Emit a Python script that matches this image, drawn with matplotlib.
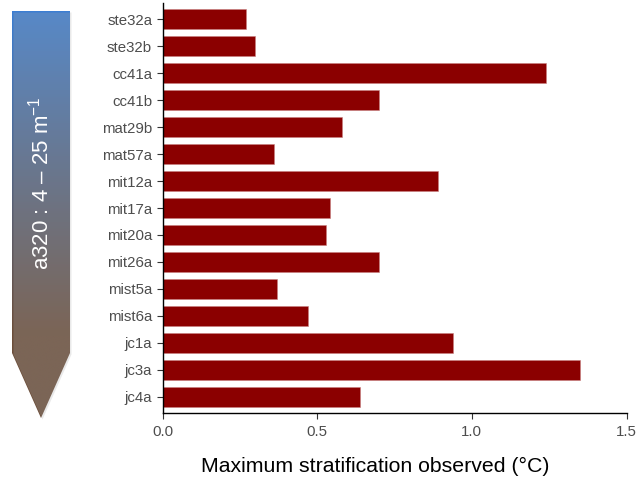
import numpy as np
import matplotlib
matplotlib.use("Agg")
import matplotlib.pyplot as plt
from matplotlib.patches import Polygon

plt.rcParams['font.family'] = ['Liberation Sans', 'DejaVu Sans']
plt.rcParams['mathtext.fontset'] = 'custom'
plt.rcParams['mathtext.rm'] = 'Liberation Sans'

sites = ['ste32a', 'ste32b', 'cc41a', 'cc41b', 'mat29b', 'mat57a', 'mit12a', 'mit17a',
         'mit20a', 'mit26a', 'mist5a', 'mist6a', 'jc1a', 'jc3a', 'jc4a']
strat = [0.27, 0.30, 1.24, 0.70, 0.58, 0.36, 0.89, 0.54,
         0.53, 0.70, 0.37, 0.47, 0.94, 1.35, 0.64]
xticks = [0.0, 0.5, 1.0, 1.5]

fig = plt.figure(figsize=(6.37, 4.79), dpi=100)

# arrow with gradient (pixel coords)
bg = fig.add_axes([0, 0, 1, 1], zorder=0)
bg.set_xlim(0, 637)
bg.set_ylim(479, 0)
bg.axis('off')
pts = [(12, 11), (70, 11), (70, 353), (41, 418), (12, 353)]
shadow = Polygon([(x + 1.5, y + 1.5) for x, y in pts], closed=True, fc='#aaaaaa', ec='none', alpha=0.25)
bg.add_patch(shadow)
arrow = Polygon(pts, closed=True, fc='none', ec='none')
bg.add_patch(arrow)
top = np.array([60, 126, 210]) / 255
mid = np.array([92, 94, 108]) / 255
bot = np.array([108, 78, 58]) / 255
n = 300
yy = np.linspace(11, 418, n)
t = np.clip((yy - 11) / (335 - 11), 0, 1)
grad = np.zeros((n, 1, 3))
for k in range(3):
    grad[:, 0, k] = np.interp(t, [0, 0.65, 1], [top[k], mid[k], bot[k]])
im = bg.imshow(grad, extent=(12, 70, 418, 11), aspect='auto', interpolation='bilinear')
im.set_clip_path(arrow)
bg.text(41, 183, r'a320 : 4 – 25 m$^{-1}$', rotation=90, color='white', fontsize=16,
        ha='center', va='center')

ax = fig.add_axes([162.5 / 637, 66 / 479, 464 / 637, 410 / 479], zorder=1)
ax.patch.set_alpha(0)
ypos = np.arange(len(sites))[::-1]
ax.barh(ypos, strat, height=0.75, color='#8B0000', edgecolor='#c98080', linewidth=0.4)
ax.set_yticks(ypos)
ax.set_yticklabels(sites)
ax.set_ylim(-0.6, len(sites) - 0.4)
ax.set_xlim(0, 1.5)
ax.set_xticks(xticks)
ax.set_xticklabels([f'{v:.1f}' for v in xticks])
ax.tick_params(axis='both', labelsize=10.8, labelcolor='#4D4D4D', color='#333333', length=4, width=0.8)
ax.tick_params(axis='x', pad=5)
ax.set_xlabel('Maximum stratification observed (°C)', fontsize=15.3, va='center')
ax.xaxis.set_label_coords(0.458, -0.13)
for s in ['top', 'right']:
    ax.spines[s].set_visible(False)
for s in ['left', 'bottom']:
    ax.spines[s].set_linewidth(1)

fig.savefig('out.png', dpi=100)
